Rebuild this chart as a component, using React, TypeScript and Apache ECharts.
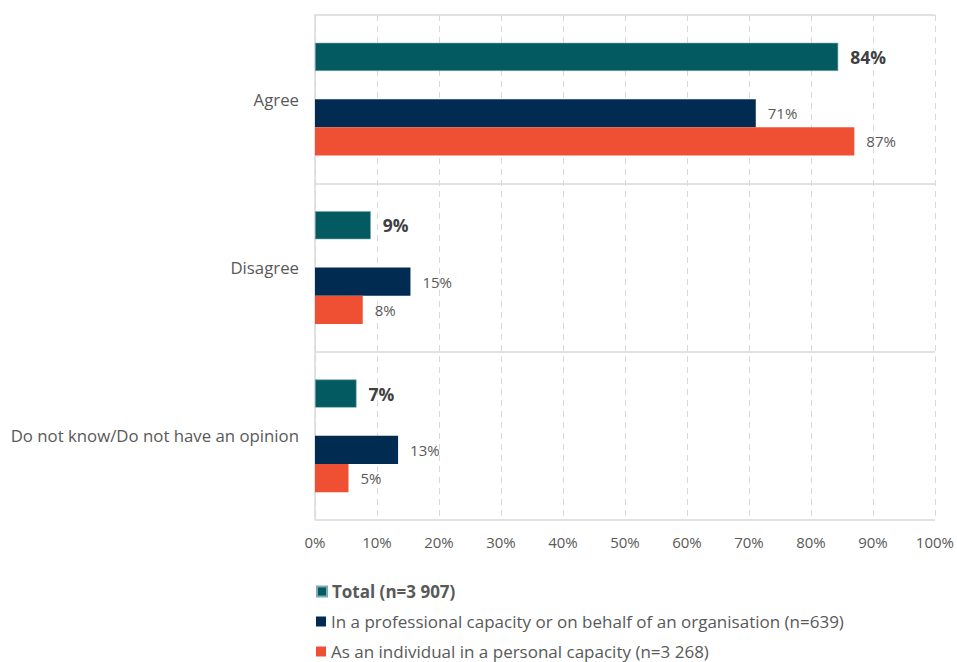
import React, { useEffect, useRef } from "react";
import * as echarts from "echarts";

const categories = ["Agree", "Disagree", "Do not know/Do not have an opinion"];
const seriesNames = [
  "Total (n=3 907)",
  "In a professional capacity or on behalf of an organisation (n=639)",
  "As an individual in a personal capacity (n=3 268)",
];
const totalValues = [84.4, 9.0, 6.7];
const professionalValues = [71.1, 15.4, 13.4];
const individualValues = [87.0, 7.7, 5.4];
const xTicks = [0, 10, 20, 30, 40, 50, 60, 70, 80, 90, 100];

const colors = ["#035A61", "#012B50", "#EF5033"];
const FONT = "Open Sans";

export default function App() {
  const ref = useRef<HTMLDivElement>(null);
  useEffect(() => {
    if (!ref.current) return;
    const chart = echarts.init(ref.current, undefined, { renderer: "svg" });
    const labelNormal = {
      show: true,
      position: "right",
      distance: 12,
      color: "#595959",
      fontFamily: FONT,
      fontSize: 15,
      formatter: (p: any) => Math.round(p.value) + "%",
    };
    const legendTops = [583, 613, 643];
    chart.setOption({
      animation: false,
      textStyle: { fontFamily: FONT },
      grid: { left: 315, right: 17, top: 15, bottom: 142, containLabel: false },
      xAxis: {
        type: "value",
        min: 0,
        max: 100,
        interval: 10,
        axisLine: { show: false },
        axisTick: { show: false },
        axisLabel: {
          color: "#595959",
          fontFamily: FONT,
          fontSize: 15,
          margin: 14,
          formatter: (v: number) => (xTicks.includes(v) ? v + "%" : ""),
        },
        splitLine: { show: true, lineStyle: { color: "#D9D9D9", type: [6, 5], width: 1 } },
      },
      yAxis: {
        type: "category",
        data: categories,
        inverse: true,
        axisLine: { show: true, lineStyle: { color: "#D9D9D9", width: 1.5 } },
        axisTick: { show: false },
        axisLabel: {
          color: "#595959",
          fontFamily: FONT,
          fontSize: 16.8,
          margin: 16,
          verticalAlign: "middle",
          formatter: (v: string) => v,
        },
        splitLine: { show: true, lineStyle: { color: "#D9D9D9", width: 1.5 } },
      },
      legend: seriesNames.map((name, i) => ({
        orient: "vertical",
        left: 316,
        top: legendTops[i],
        padding: 0,
        itemWidth: 10,
        itemHeight: 10,
        icon: "rect",
        selectedMode: false,
        textStyle: {
          color: "#595959",
          fontFamily: FONT,
          fontSize: 17,
          fontWeight: i === 0 ? "bold" : "normal",
        },
        data: [name],
      })),
      series: [
        {
          name: seriesNames[0],
          type: "bar",
          data: totalValues,
          barCategoryGap: "33%",
          barGap: "0%",
          itemStyle: { color: colors[0], borderColor: "#7FA9B3", borderWidth: 0.6 },
          label: { ...labelNormal, fontWeight: "bold", fontSize: 17.5, color: "#404040" },
        },
        {
          name: "spacer",
          type: "bar",
          data: [0, 0, 0],
          barGap: "0%",
          itemStyle: { color: "transparent" },
          label: { show: false },
        },
        {
          name: seriesNames[1],
          type: "bar",
          data: professionalValues,
          barGap: "0%",
          itemStyle: { color: colors[1] },
          label: labelNormal,
        },
        {
          name: seriesNames[2],
          type: "bar",
          data: individualValues,
          barGap: "0%",
          itemStyle: { color: colors[2] },
          label: labelNormal,
        },
      ],
    });
    return () => chart.dispose();
  }, []);
  return <div ref={ref} style={{ width: 957, height: 662, position: "absolute", left: 0, top: 0 }} />;
}
